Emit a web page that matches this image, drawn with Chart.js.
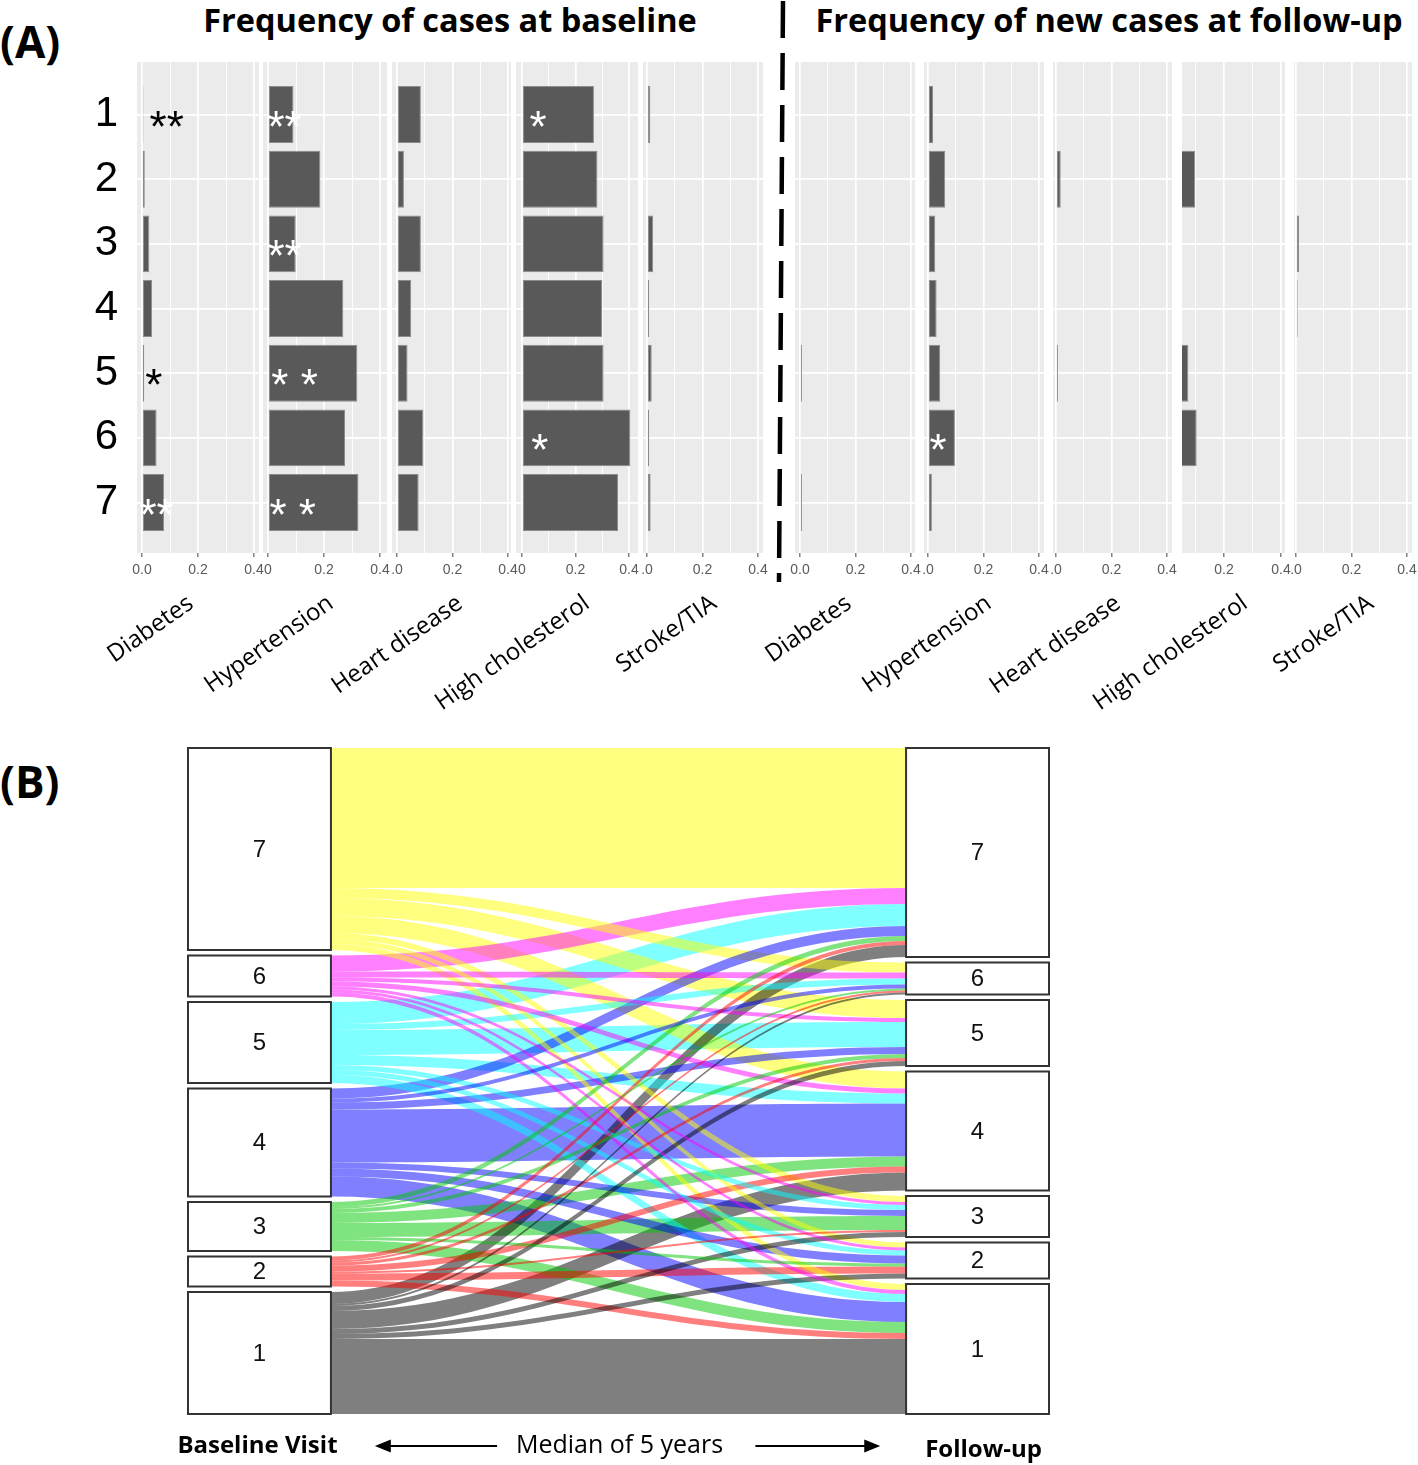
<!DOCTYPE html>
<html>
<head>
<meta charset="utf-8">
<title>Cluster comorbidities and transitions</title>
<script src="https://cdn.jsdelivr.net/npm/chart.js@4.4.1/dist/chart.umd.min.js"></script>
<style>
  html, body { margin: 0; padding: 0; background: #fff; }
  body { position: relative; width: 1418px; height: 1465px; overflow: hidden; font-family: "Open Sans", sans-serif; }
  canvas { position: absolute; }
  .head { position: absolute; font-weight: 700; color: #000; white-space: nowrap; line-height: 1; }
</style>
</head>
<body>
<div class="head" style="left:0px;top:19px;font-size:44px">(A)</div>
<div class="head" style="left:450px;top:4px;font-size:32.5px;transform:translateX(-50%)">Frequency of cases at baseline</div>
<div class="head" style="left:1109px;top:4px;font-size:32.5px;transform:translateX(-50%)">Frequency of new cases at follow-up</div>
<div class="head" style="left:0px;top:759px;font-size:44px">(B)</div>
<script>
// ---- data ----
const clusters = [1, 2, 3, 4, 5, 6, 7];
const conditionNames = ['Diabetes', 'Hypertension', 'Heart disease', 'High cholesterol', 'Stroke/TIA'];
const xTickValues = [0, 0.1, 0.2, 0.3, 0.4];
const zeroTickLabels = ['0.0', '0', '.0', '0', '.0', '0.0', '.0', '.0', '', '.0'];

// proportion of each cluster with the condition at baseline
const baseDiabetes = [0.005, 0.010, 0.026, 0.036, 0.008, 0.052, 0.079];
const baseHypertension = [0.091, 0.187, 0.099, 0.269, 0.319, 0.275, 0.323];
const baseHeart = [0.086, 0.025, 0.086, 0.051, 0.038, 0.095, 0.078];
const baseCholesterol = [0.269, 0.282, 0.305, 0.300, 0.305, 0.405, 0.359];
const baseStroke = [0.012, 0, 0.022, 0.008, 0.017, 0.008, 0.013];

// proportion of new cases at follow-up
const newDiabetes = [0, 0, 0, 0, 0.007, 0, 0.007];
const newHypertension = [0.018, 0.062, 0.026, 0.031, 0.044, 0.097, 0.014];
const newHeart = [0, 0.017, 0, 0, 0.007, 0, 0];
const newCholesterol = [0, 0.099, 0, 0, 0.075, 0.104, 0];
const newStroke = [0.003, 0, 0.011, 0.006, 0, 0, 0];

// significance marks
const starPanel = [0, 0, 0, 1, 1, 1, 1, 3, 3, 6];
const starRow = [1, 5, 7, 1, 3, 5, 7, 1, 6, 6];
const starText = ['**', '*', '**', '**', '**', '* *', '* *', '*', '*', '*'];
const starDark = [true, true, false, false, false, false, false, false, false, false];
const starX = [0.027, 0.012, -0.009, -0.002, -0.002, 0.012, 0.005, 0.028, 0.035, 0.005];

// cluster transitions baseline -> follow-up (counts to follow-up cluster 1..7)
const fromCluster1 = [75, 5, 5, 18, 5, 2, 12];
const fromCluster2 = [6, 7, 2, 6, 3, 2, 4];
const fromCluster3 = [11, 3, 14, 10, 4, 2, 5];
const fromCluster4 = [20, 8, 6, 53, 7, 4, 10];
const fromCluster5 = [8, 5, 5, 10, 25, 6, 22];
const fromCluster6 = [4, 3, 3, 5, 4, 6, 16];
const fromCluster7 = [6, 5, 6, 17, 18, 10, 140];

// ---- layout ----
const panelValues = [baseDiabetes, baseHypertension, baseHeart, baseCholesterol, baseStroke,
  newDiabetes, newHypertension, newHeart, newCholesterol, newStroke];
// [bg left, bg right, pixel of 0, pixel of 0.4]
const panelBox = [
  [137, 259, 142, 254], [263, 387, 268, 380], [392, 511, 397, 508], [516, 638, 522, 629], [643, 763, 647, 758],
  [795, 915, 800, 911], [924, 1044, 928, 1039], [1053, 1172, 1056, 1167], [1182, 1285, 1167, 1281], [1294, 1412, 1296, 1407]
];
const titleAnchorX = [191, 331, 460, 587, 714, 849, 989, 1118, 1245, 1371];

const PLOT_TOP = 62, PLOT_BOTTOM = 553, AXIS_H = 30, PAD_L = 160, PAD_R = 30, CANVAS_H = 720;
const ROW_AXIS_W = 70;
const ROW_MIN = 0.188, ROW_MAX = 7.78;

Chart.defaults.font.family = "'Liberation Sans', Arial, sans-serif";
Chart.defaults.animation = false;

const isMajor = (v) => Math.abs(v * 5 - Math.round(v * 5)) < 1e-6;

function makeCanvas(left, top, w, h) {
  const cv = document.createElement('canvas');
  cv.width = w; cv.height = h;
  cv.style.left = left + 'px'; cv.style.top = top + 'px';
  cv.style.width = w + 'px'; cv.style.height = h + 'px';
  document.body.appendChild(cv);
  return cv;
}

const panelBg = {
  id: 'panelBg',
  beforeDraw(chart) {
    const { ctx, chartArea: a } = chart;
    ctx.save();
    ctx.fillStyle = '#ebebeb';
    ctx.fillRect(a.left, a.top, a.right - a.left, a.bottom - a.top);
    ctx.restore();
  }
};

const stars = {
  id: 'stars',
  afterDatasetsDraw(chart, args, opts) {
    const { ctx, scales: { x, y } } = chart;
    ctx.save();
    ctx.font = "44px 'Liberation Sans', Arial, sans-serif";
    ctx.textAlign = 'left';
    ctx.textBaseline = 'alphabetic';
    starPanel.forEach((p, k) => {
      if (p !== opts.panel) return;
      ctx.fillStyle = starDark[k] ? '#000' : '#fff';
      ctx.fillText(starText[k], x.getPixelForValue(starX[k]), y.getPixelForValue(starRow[k]) + 27);
    });
    ctx.restore();
  }
};

const axisTitle = {
  id: 'axisTitle',
  afterDraw(chart, args, opts) {
    const { ctx } = chart;
    ctx.save();
    ctx.translate(opts.x, 601);
    ctx.rotate(-35 * Math.PI / 180);
    ctx.font = "24px 'Open Sans', sans-serif";
    ctx.fillStyle = '#000';
    ctx.textAlign = 'right';
    ctx.textBaseline = 'middle';
    ctx.fillText(opts.text, 0, 0);
    ctx.restore();
  }
};

const divider = {
  id: 'divider',
  afterDraw(chart, args, opts) {
    if (!opts.show) return;
    const { ctx } = chart;
    ctx.save();
    ctx.strokeStyle = '#000';
    ctx.lineWidth = 4.5;
    ctx.setLineDash([37, 15]);
    ctx.beginPath();
    ctx.moveTo(783 - opts.offset, 1);
    ctx.lineTo(779 - opts.offset, 582);
    ctx.stroke();
    ctx.restore();
  }
};

panelBox.forEach(([bgL, bgR, zeroPx, fourPx], i) => {
  const off = bgL - PAD_L;
  const w = bgR - bgL + PAD_L + PAD_R;
  const cv = makeCanvas(off, 0, w, CANVAS_H);
  const k = (fourPx - zeroPx) / 0.4;
  const xmin = (bgL - zeroPx) / k, xmax = (bgR - zeroPx) / k;
  const vals = panelValues[i];
  const axisW = i === 0 ? ROW_AXIS_W : 0;

  new Chart(cv, {
    type: 'bar',
    data: {
      datasets: [{
        data: clusters.map((c, j) => ({ x: vals[j], y: c })),
        backgroundColor: '#595959',
        borderColor: '#8c8c8c',
        borderWidth: 1,
        borderSkipped: false,
        categoryPercentage: 1,
        barPercentage: 0.88,
        clip: 0
      }]
    },
    options: {
      indexAxis: 'y',
      responsive: false,
      animation: false,
      layout: { padding: { left: PAD_L - axisW, right: PAD_R, top: PLOT_TOP, bottom: CANVAS_H - PLOT_BOTTOM - AXIS_H } },
      plugins: {
        legend: { display: false },
        tooltip: { enabled: false },
        stars: { panel: i },
        axisTitle: { x: titleAnchorX[i] - off, text: conditionNames[i % 5] },
        divider: { show: i === 5, offset: off }
      },
      scales: {
        x: {
          type: 'linear', min: xmin, max: xmax,
          afterBuildTicks: (s) => { s.ticks = xTickValues.filter(v => v >= xmin && v <= xmax).map(v => ({ value: v })); },
          afterFit: (s) => { s.height = AXIS_H; },
          border: { display: false },
          grid: {
            color: '#ffffff',
            lineWidth: (c) => (c.tick && isMajor(c.tick.value) ? 1.7 : 0.9),
            drawTicks: true,
            tickLength: 4,
            tickWidth: 1,
            tickColor: (c) => (c.tick && isMajor(c.tick.value) ? '#444' : 'rgba(0,0,0,0)')
          },
          ticks: {
            autoSkip: false, maxRotation: 0, padding: 5, color: '#5a5a5a',
            font: { size: 14 },
            callback: (v) => (Math.abs(v) < 1e-9 ? zeroTickLabels[i] : (isMajor(v) ? v.toFixed(1) : ''))
          }
        },
        y: {
          type: 'linear', reverse: true, min: ROW_MIN, max: ROW_MAX,
          offset: false,
          afterBuildTicks: (s) => { s.ticks = clusters.map(v => ({ value: v })); },
          afterFit: (s) => { s.width = axisW; },
          border: { display: false },
          grid: { color: '#ffffff', lineWidth: 1.7, drawTicks: false, offset: false },
          ticks: {
            display: i === 0, padding: 19, color: '#000', autoSkip: false,
            font: { size: 42 },
            callback: (v) => String(v)
          }
        }
      }
    },
    plugins: [panelBg, stars, axisTitle, divider]
  });
});

// ---- panel B: alluvial of cluster membership ----
const GAP = 5.5, BOX_W = 0.166;
const stackOrder = [7, 6, 5, 4, 3, 2, 1];
const fromRows = [fromCluster1, fromCluster2, fromCluster3, fromCluster4, fromCluster5, fromCluster6, fromCluster7];
const flowColors = ['rgba(0,0,0,0.5)', 'rgba(255,0,0,0.5)', 'rgba(0,200,0,0.5)', 'rgba(0,0,255,0.5)',
  'rgba(0,255,255,0.5)', 'rgba(255,0,255,0.5)', 'rgba(255,255,0,0.5)'];
const sum = (a) => a.reduce((s, v) => s + v, 0);
const N = sum(fromRows.map(sum));
const Y_MAX_B = N + GAP * 6;

function stackNodes(total) {
  const pos = {};
  let cur = 0;
  stackOrder.forEach(c => { pos[c] = [cur, cur + total(c)]; cur += total(c) + GAP; });
  return pos;
}
const leftPos = stackNodes(c => sum(fromRows[c - 1]));
const rightPos = stackNodes(c => sum(fromRows.map(r => r[c - 1])));

const flows = [];
const lc = {}, rc = {};
stackOrder.forEach(c => { lc[c] = leftPos[c][0]; rc[c] = rightPos[c][0]; });
stackOrder.forEach(o => stackOrder.forEach(d => {
  const v = fromRows[o - 1][d - 1];
  if (!v) return;
  flows.push({ o, d, v, l0: lc[o], l1: lc[o] + v });
  lc[o] += v;
}));
stackOrder.forEach(d => stackOrder.forEach(o => {
  const f = flows.find(s => s.o === o && s.d === d);
  if (!f) return;
  f.r0 = rc[d]; f.r1 = rc[d] + f.v;
  rc[d] += f.v;
}));

function arrow(ctx, x0, x1, yy) {
  const dir = Math.sign(x1 - x0);
  ctx.beginPath();
  ctx.moveTo(x0, yy);
  ctx.lineTo(x1 - dir * 14, yy);
  ctx.stroke();
  ctx.beginPath();
  ctx.moveTo(x1, yy);
  ctx.lineTo(x1 - dir * 16, yy - 6.5);
  ctx.lineTo(x1 - dir * 16, yy + 6.5);
  ctx.closePath();
  ctx.fill();
}

const alluvial = {
  id: 'alluvial',
  afterDraw(chart) {
    const { ctx, scales: { x, y }, chartArea: area } = chart;
    const x0 = x.getPixelForValue(0), x1 = x.getPixelForValue(1);
    const xL = x.getPixelForValue(BOX_W), xR = x.getPixelForValue(1 - BOX_W);
    const bend = (xR - xL) * 0.42;
    ctx.save();
    flows.slice().sort((a, b) => b.v - a.v).forEach(f => {
      const a0 = y.getPixelForValue(f.l0), a1 = y.getPixelForValue(f.l1);
      const b0 = y.getPixelForValue(f.r0), b1 = y.getPixelForValue(f.r1);
      ctx.beginPath();
      ctx.moveTo(xL, a0);
      ctx.bezierCurveTo(xL + bend, a0, xR - bend, b0, xR, b0);
      ctx.lineTo(xR, b1);
      ctx.bezierCurveTo(xR - bend, b1, xL + bend, a1, xL, a1);
      ctx.closePath();
      ctx.fillStyle = flowColors[f.o - 1];
      ctx.fill();
    });

    ctx.lineWidth = 2;
    ctx.strokeStyle = '#333';
    ctx.font = "24px 'Liberation Sans', Arial, sans-serif";
    ctx.textAlign = 'center';
    ctx.textBaseline = 'middle';
    [[leftPos, x0, xL], [rightPos, xR, x1]].forEach(([pos, bx0, bx1]) => {
      stackOrder.forEach(c => {
        const t = y.getPixelForValue(pos[c][0]), b = y.getPixelForValue(pos[c][1]);
        ctx.fillStyle = '#fff';
        ctx.fillRect(bx0, t, bx1 - bx0, b - t);
        ctx.strokeRect(bx0, t, bx1 - bx0, b - t);
        ctx.fillStyle = '#111';
        ctx.fillText(String(c), (bx0 + bx1) / 2, (t + b) / 2 + 1);
      });
    });

    const yy = area.bottom + 32;
    ctx.fillStyle = '#000';
    ctx.font = "bold 24px 'Open Sans', sans-serif";
    ctx.fillText('Baseline Visit', (x0 + xL) / 2 - 2, yy);
    ctx.fillText('Follow-up', (xR + x1) / 2 + 6, yy + 4);
    ctx.font = "25px 'Open Sans', sans-serif";
    ctx.fillText('Median of 5 years', x.getPixelForValue(0.5) + 1, yy);
    ctx.strokeStyle = '#000';
    ctx.lineWidth = 2.2;
    arrow(ctx, x.getPixelForValue(0.359), x.getPixelForValue(0.217), yy);
    arrow(ctx, x.getPixelForValue(0.659), x.getPixelForValue(0.804), yy);
    ctx.restore();
  }
};

const cvB = makeCanvas(170, 740, 900, 725);
new Chart(cvB, {
  type: 'scatter',
  data: { datasets: [] },
  options: {
    responsive: false,
    animation: false,
    layout: { padding: { left: 18, right: 21, top: 8, bottom: 51 } },
    plugins: { legend: { display: false }, tooltip: { enabled: false } },
    scales: {
      x: { type: 'linear', min: 0, max: 1, display: false },
      y: { type: 'linear', min: 0, max: Y_MAX_B, reverse: true, display: false }
    }
  },
  plugins: [alluvial]
});
</script>
</body>
</html>
